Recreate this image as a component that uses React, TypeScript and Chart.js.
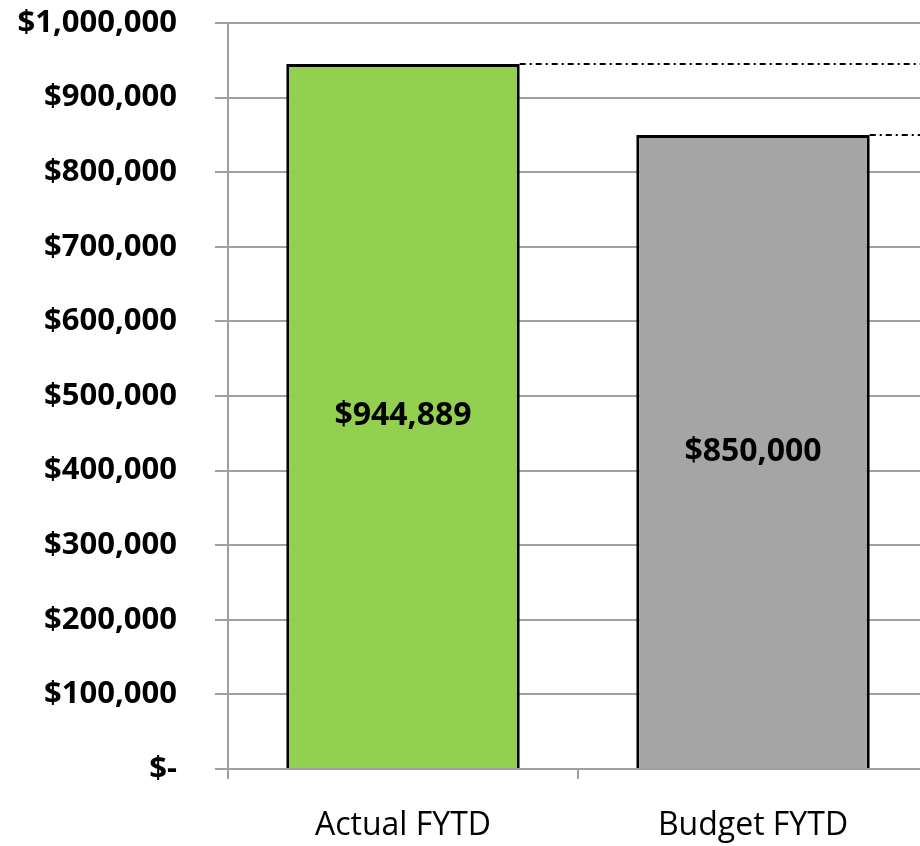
import React, { useEffect, useRef } from 'react';
import { Chart, registerables } from 'chart.js';

Chart.register(...registerables);

const categories = ['Actual FYTD', 'Budget FYTD', ''];
const values: (number | null)[] = [944889, 850000, null];
const barColors = ['#92D050', '#A5A5A5', '#FFFFFF'];
const yMin = 0;
const yMax = 1000000;
const yStep = 100000;
const leaderBars = [0, 1];

const fmt = (v: number) => (v === 0 ? '$-' : '$' + v.toLocaleString('en-US'));

export default function App() {
  const ref = useRef<HTMLCanvasElement>(null);

  useEffect(() => {
    if (!ref.current) return;
    const labelPlugin = {
      id: 'barLabels',
      afterDatasetsDraw(chart: any) {
        const ctx = chart.ctx;
        const meta = chart.getDatasetMeta(0);
        const right = chart.chartArea.right;
        ctx.save();
        ctx.setLineDash([6, 4, 2, 4]);
        ctx.lineWidth = 2;
        ctx.strokeStyle = '#000000';
        leaderBars.forEach((i) => {
          const el = meta.data[i];
          if (!el) return;
          const p = el.getProps(['x', 'y', 'width', 'base'], true);
          ctx.beginPath();
          ctx.moveTo(p.x + p.width / 2, p.y);
          ctx.lineTo(right, p.y);
          ctx.stroke();
        });
        ctx.setLineDash([]);
        ctx.font = 'bold 32px "Open Sans"';
        ctx.fillStyle = '#000000';
        ctx.textAlign = 'center';
        ctx.textBaseline = 'middle';
        values.forEach((v, i) => {
          if (v == null) return;
          const el = meta.data[i];
          const p = el.getProps(['x', 'y', 'base'], true);
          ctx.fillText(fmt(v), p.x, (p.y + p.base) / 2);
        });
        ctx.restore();
      },
    };

    const chart = new Chart(ref.current, {
      type: 'bar',
      data: {
        labels: categories,
        datasets: [
          {
            data: values as any,
            backgroundColor: barColors,
            borderColor: '#000000',
            borderWidth: 3,
            categoryPercentage: 1,
            barPercentage: 0.667,
          },
        ],
      },
      options: {
        responsive: false,
        animation: false,
        layout: { padding: { top: 23, right: 22, left: 0, bottom: 0 } },
        plugins: {
          legend: { display: false },
          tooltip: { enabled: false },
        },
        scales: {
          y: {
            min: yMin,
            max: yMax,
            ticks: {
              stepSize: yStep,
              callback: (v: any) => fmt(Number(v)),
              font: { family: 'Open Sans', size: 31, weight: 'bold' },
              color: '#000000',
              padding: 38,
            },
            grid: { color: '#a0a0a0', lineWidth: 2, tickLength: 13, drawTicks: true },
            border: { color: '#a0a0a0', width: 2 },
            afterFit: (scale: any) => {
              scale.width = 228;
              scale.paddingTop = 0;
              scale.paddingBottom = 0;
            },
          },
          x: {
            ticks: {
              font: { family: 'Open Sans', size: 32 },
              color: '#000000',
              padding: 28,
            },
            grid: {
              color: '#a0a0a0',
              lineWidth: 2,
              drawOnChartArea: false,
              drawTicks: true,
              tickLength: 10,
              offset: true,
            },
            border: { color: '#a0a0a0', width: 2 },
            afterFit: (scale: any) => {
              scale.height = 77;
              scale.paddingLeft = 0;
              scale.paddingRight = 0;
            },
          },
        },
      },
      plugins: [labelPlugin],
    } as any);

    return () => chart.destroy();
  }, []);

  return (
    <div
      style={{
        position: 'fixed',
        left: 0,
        top: 0,
        width: 920,
        height: 846,
        overflow: 'hidden',
        background: '#ffffff',
      }}
    >
      <canvas ref={ref} width={1300} height={846} style={{ display: 'block' }} />
    </div>
  );
}
